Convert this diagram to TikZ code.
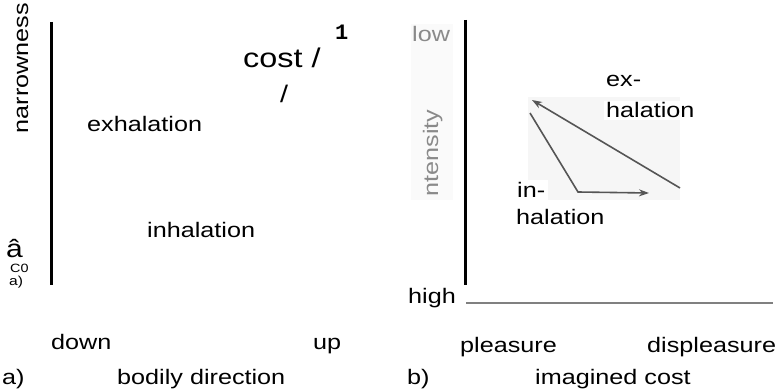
\documentclass[tikz,border=0pt]{standalone}
\usepackage{fontspec}
\setmainfont[FakeStretch=1.2]{Liberation Sans}
\newfontfamily\monofont{Liberation Mono}
\usetikzlibrary{arrows.meta}
\definecolor{lblgray}{HTML}{8A8A8A}
\definecolor{arrgray}{HTML}{555555}
\tikzset{
  lab/.style={inner sep=0pt, anchor=base west, font=\fontsize{21}{25}\selectfont},
  biglab/.style={lab, font=\fontsize{27}{30}\selectfont},
  glab/.style={lab, text=lblgray},
  axis/.style={line width=3pt, black},
  haxis/.style={line width=2pt, gray},
  flow/.style={line width=1.6pt, arrgray, -{Stealth[length=10pt,width=7pt]}},
}
\begin{document}
\begin{tikzpicture}[x=1pt,y=-1pt]
\useasboundingbox (0,0) rectangle (779,390);
% ---------- panel a ----------
\node[lab, rotate=90, anchor=base] (narrow) at (28,68) {narrowness};
\coordinate (atop) at (51,22);
\coordinate (abot) at (51,285);
\draw[axis] (atop) -- (abot);
\node[biglab] (cost) at (243,68) {cost /};
\node[lab, font=\monofont\bfseries\fontsize{22}{24}\selectfont] (one) at (335,40) {1};
\node[biglab, font=\fontsize{24}{26}\selectfont] (slash) at (280,103) {/};
\node[lab] (exa) at (87,132) {exhalation};
\node[lab] (ina) at (147,237) {inhalation};
\node[lab, font=\fontsize{25}{27}\selectfont] (acirc) at (6,258) {â};
\node[lab, font=\fontsize{12}{13}\selectfont] (czero) at (10,272) {C0};
\node[lab, font=\fontsize{13}{14}\selectfont] (asmall) at (9,285) {a)};
\node[lab] (down) at (51,349) {down};
\node[lab] (up) at (313,349) {up};
\node[lab] (alab) at (2,384) {a)};
\node[lab] (bodily) at (117,384) {bodily direction};
% ---------- panel b ----------
\fill[gray!4] (411,24) rectangle (453,200);
\fill[gray!7] (528,97) rectangle (680,200);
\node[glab] (low) at (412,42) {low};
\node[glab, rotate=90, anchor=base] (inten) at (438,153) {ntensity};
\coordinate (btop) at (465,20);
\coordinate (bbot) at (465,285);
\draw[axis] (btop) -- (bbot);
\node[lab] (high) at (408,303) {high};
\coordinate (hl) at (466,303);
\coordinate (hr) at (773,303);
\draw[haxis] (hl) -- (hr);
\node[lab] (pleas) at (460,352) {pleasure};
\node[lab] (displeas) at (647,352) {displeasure};
\node[lab] (blab) at (407,384) {b)};
\node[lab] (imag) at (535,384) {imagined cost};
\node[lab] (ex1) at (606,87) {ex-};
\node[lab, fill=white, inner sep=2pt] (ex2) at (604,118) {halation};
\node[lab, fill=white, inner sep=3pt] (in1) at (514,198) {in-};
\node[lab] (in2) at (516,225) {halation};
% arrows
\coordinate (exs) at (680,188);
\coordinate (exe) at (532,100);
\coordinate (ins) at (530,113);
\coordinate (inc) at (578,192);
\coordinate (ine) at (649,193);
\draw[flow] (exs) -- (exe);
\draw[flow] (ins) -- (inc) -- (ine);
\end{tikzpicture}
\end{document}
